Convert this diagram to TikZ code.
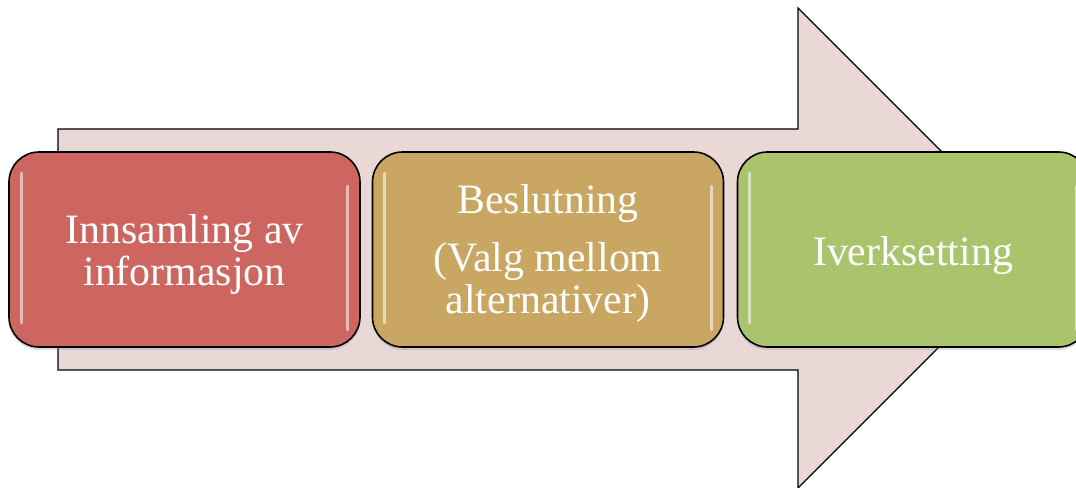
\documentclass[tikz,border=0pt]{standalone}
\usepackage{fontspec}
\setmainfont{Liberation Serif}
\usetikzlibrary{shadows}
\definecolor{arrowfill}{RGB}{234,216,215}
\definecolor{redc}{RGB}{205,102,96}
\definecolor{tanc}{RGB}{201,167,99}
\definecolor{greenc}{RGB}{170,196,110}
\begin{document}
\begin{tikzpicture}[x=1bp,y=-1bp,
  box/.style={draw=black, line width=1.6bp, rounded corners=30bp, minimum width=351bp, minimum height=195bp, inner sep=0pt,
    drop shadow={opacity=0.25, shadow xshift=0bp, shadow yshift=-3bp}},
  lbl/.style={text=white, font=\fontsize{42}{43}\selectfont, align=center, inner sep=0pt},
  shine/.style={white, opacity=0.55, line width=3bp, line cap=round}]
\useasboundingbox (0,0) rectangle (1076,488);
\clip (0,0) rectangle (1076,488);
\draw[fill=arrowfill, line width=1.3bp] (58,129) -- (798,129) -- (798,8) -- (1038,248) -- (798,488) -- (798,370) -- (58,370) -- cycle;
\node[box, fill=redc] (b1) at (184.5,249.5) {};
\node[box, fill=tanc] (b2) at (548,249.5) {};
\node[box, fill=greenc] (b3) at (913,249.5) {};
\foreach \b in {b1,b2,b3}{
  \draw[shine] ([xshift=13bp,yshift=-22bp]\b.north west) -- ([xshift=13bp,yshift=25bp]\b.south west);
  \draw[shine] ([xshift=-13bp,yshift=-35bp]\b.north east) -- ([xshift=-13bp,yshift=18bp]\b.south east);
}
\node[lbl] (t1) at ([yshift=-5bp]b1.center) {Innsamling av\\informasjon};
\node[lbl] (t2) at ([yshift=-4bp]b2.center) {Beslutning\\[15bp](Valg mellom\\alternativer)};
\node[lbl] (t3) at ([yshift=-6bp]b3.center) {Iverksetting};
\end{tikzpicture}
\end{document}
